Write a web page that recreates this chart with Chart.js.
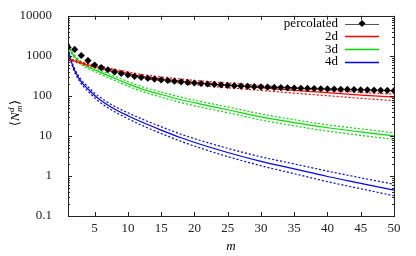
<!DOCTYPE html>
<html>
<head>
<meta charset="utf-8">
<script src="https://cdn.jsdelivr.net/npm/chart.js@4.4.1/dist/chart.umd.min.js"></script>
<style>
html, body { margin: 0; padding: 0; background: #fff; }
#myChart { display: block; }
</style>
</head>
<body>
<canvas id="myChart" width="416" height="256"></canvas>
<script>
// measured points
const mValues = [1, 2, 3, 4, 5, 6, 7, 8, 9, 10, 11, 12, 13, 14, 15, 16, 17, 18, 19, 20,
    21, 22, 23, 24, 25, 26, 27, 28, 29, 30, 31, 32, 33, 34, 35, 36, 37, 38, 39, 40,
    41, 42, 43, 44, 45, 46, 47, 48, 49, 50];
const percolated = [1650, 1450, 1020, 760, 590, 510, 450, 395, 362, 335, 308, 290, 276, 263, 252, 242, 233, 225, 217, 210,
    204, 198, 193, 188, 184, 180, 176, 173, 170, 167, 165, 163, 161, 159, 157, 155, 153.5, 152, 150.5, 149,
    147.5, 146, 145, 143.5, 142, 140.5, 139, 138, 136.5, 135];

// fitted curves (solid) and their bounds (dotted)
const fitM = [1, 1.5, 2, 3, 4, 5, 6, 8, 10, 12, 15, 18, 21, 25, 30, 35, 40, 45, 50];
const fit2d = [850, 795, 745, 665, 600, 550, 505, 430, 365, 310, 268, 235, 210, 185, 160, 138, 120, 105, 93];
const fit2dHigh = [880, 830, 785, 705, 640, 590, 545, 467, 400, 342, 298, 263, 236, 210, 183, 159, 139, 123, 110];
const fit2dLow = [820, 760, 705, 625, 560, 510, 465, 393, 330, 278, 238, 207, 183, 160, 137, 117, 101, 87, 76];
const fit3d = [1900, 1250, 950, 660, 530, 450, 380, 275, 200, 150, 108, 80, 62, 45, 30, 21.5, 16, 12.6, 10];
const fit3dHigh = [1950, 1320, 1020, 720, 585, 500, 425, 310, 228, 172, 125, 93, 72, 53, 35.5, 25.5, 19, 15, 12];
const fit3dLow = [1850, 1180, 880, 605, 480, 405, 340, 243, 175, 130, 93, 68, 52, 38, 25, 17.8, 13.2, 10.3, 8.2];
const fit4d = [1500, 720, 430, 225, 150, 102, 76, 47, 32, 22.5, 14, 9.0, 6.1, 3.85, 2.32, 1.5, 0.97, 0.655, 0.44];
const fit4dHigh = [1550, 780, 475, 252, 170, 117, 88, 55, 38, 27, 17, 11, 7.6, 4.9, 3.0, 2.0, 1.32, 0.9, 0.62];
const fit4dLow = [1450, 665, 390, 200, 132, 89, 65, 40, 27, 18.7, 11.5, 7.3, 4.9, 3.05, 1.8, 1.14, 0.72, 0.48, 0.32];

const xTicks = [5, 10, 15, 20, 25, 30, 35, 40, 45, 50];
const yTicks = [0.1, 1, 10, 100, 1000, 10000];
const yTickLabels = ['0.1', '1', '10', '100', '1000', '10000'];
const legendLabels = ['percolated', '2d', '3d', '4d'];

const FONT = '"Liberation Serif", "DejaVu Serif", serif';

function pts(xs, ys) {
    return xs.map((x, i) => ({ x: x, y: ys[i] }));
}

function curve(label, ys, color, dotted) {
    return {
        label: label,
        data: pts(fitM, ys),
        borderColor: color,
        backgroundColor: color,
        borderWidth: 1.2,
        borderDash: dotted ? [2, 2] : [],
        pointRadius: 0,
        cubicInterpolationMode: 'monotone',
        fill: false
    };
}

// frame, inward ticks, legend, y title
const decorations = {
    id: 'decorations',
    afterDraw(chart) {
        const ctx = chart.ctx;
        const a = chart.chartArea;
        const xs = chart.scales.x;
        const ys = chart.scales.y;
        ctx.save();
        ctx.strokeStyle = '#222';
        ctx.lineWidth = 1;
        ctx.strokeRect(Math.round(a.left) + 0.5, Math.round(a.top) + 0.5,
            Math.round(a.right - a.left), Math.round(a.bottom - a.top));

        ctx.beginPath();
        xTicks.forEach((v) => {
            const px = Math.round(xs.getPixelForValue(v)) + 0.5;
            ctx.moveTo(px, a.bottom); ctx.lineTo(px, a.bottom - 4);
            ctx.moveTo(px, a.top); ctx.lineTo(px, a.top + 4);
        });
        yTicks.forEach((v) => {
            const py = Math.round(ys.getPixelForValue(v)) + 0.5;
            ctx.moveTo(a.left, py); ctx.lineTo(a.left + 4, py);
            ctx.moveTo(a.right, py); ctx.lineTo(a.right - 4, py);
            if (v < 10000) {
                for (let k = 2; k < 10; k++) {
                    const pm = Math.round(ys.getPixelForValue(v * k)) + 0.5;
                    ctx.moveTo(a.left, pm); ctx.lineTo(a.left + 2, pm);
                    ctx.moveTo(a.right, pm); ctx.lineTo(a.right - 2, pm);
                }
            }
        });
        ctx.stroke();

        // legend
        ctx.font = '13px ' + FONT;
        ctx.textAlign = 'right';
        ctx.textBaseline = 'middle';
        const order = [0, 1, 4, 7];
        legendLabels.forEach((lab, i) => {
            const y = 23.5 + i * 12.8;
            const ds = chart.data.datasets[order[i]];
            ctx.fillStyle = '#000';
            ctx.fillText(lab, 338, y);
            ctx.strokeStyle = i === 0 ? '#555' : ds.borderColor;
            ctx.lineWidth = i === 0 ? 1 : 1.5;
            ctx.beginPath();
            ctx.moveTo(345, Math.round(y) + 0.5);
            ctx.lineTo(379, Math.round(y) + 0.5);
            ctx.stroke();
            if (i === 0) {
                ctx.fillStyle = '#000';
                ctx.beginPath();
                ctx.moveTo(362, y - 3.5); ctx.lineTo(365.5, y);
                ctx.lineTo(362, y + 3.5); ctx.lineTo(358.5, y);
                ctx.closePath();
                ctx.fill();
            }
        });

        // y axis title <N^d_m>
        ctx.translate(15, 113);
        ctx.rotate(-Math.PI / 2);
        ctx.textAlign = 'left';
        ctx.textBaseline = 'alphabetic';
        ctx.fillStyle = '#000';
        const big = '13px ' + FONT;
        const bigI = 'italic 13px ' + FONT;
        const small = 'italic 9px ' + FONT;
        ctx.font = big;
        const wl = ctx.measureText('\u27E8').width;
        const wr = ctx.measureText('\u27E9').width;
        ctx.font = bigI;
        const wn = ctx.measureText('N').width;
        ctx.font = small;
        const ws = Math.max(ctx.measureText('d').width, ctx.measureText('m').width);
        let x = -(wl + wn + ws + wr + 1) / 2;
        ctx.font = big; ctx.fillText('\u27E8', x, 4); x += wl;
        ctx.font = bigI; ctx.fillText('N', x, 4); x += wn + 0.5;
        ctx.font = small; ctx.fillText('d', x, -1); ctx.fillText('m', x, 7); x += ws + 0.5;
        ctx.font = big; ctx.fillText('\u27E9', x, 4);
        ctx.restore();
    }
};

const ctx = document.getElementById('myChart').getContext('2d');
const myChart = new Chart(ctx, {
    type: 'line',
    data: {
        datasets: [
            {
                label: 'percolated',
                data: pts(mValues, percolated),
                borderColor: '#000000',
                backgroundColor: '#000000',
                showLine: false,
                pointStyle: 'rectRot',
                pointRadius: 3.6,
                pointBorderWidth: 0
            },
            curve('2d', fit2d, '#ff0000', false),
            curve('2d high', fit2dHigh, '#ff0000', true),
            curve('2d low', fit2dLow, '#ff0000', true),
            curve('3d', fit3d, '#00e000', false),
            curve('3d high', fit3dHigh, '#00e000', true),
            curve('3d low', fit3dLow, '#00e000', true),
            curve('4d', fit4d, '#0000ff', false),
            curve('4d high', fit4dHigh, '#0000ff', true),
            curve('4d low', fit4dLow, '#0000ff', true)
        ]
    },
    options: {
        responsive: false,
        animation: false,
        layout: { padding: { left: 0, right: 22, top: 14, bottom: 0 } },
        plugins: {
            legend: { display: false },
            tooltip: { enabled: false }
        },
        scales: {
            x: {
                type: 'linear',
                min: 1,
                max: 50,
                grid: { display: false },
                border: { display: false },
                afterBuildTicks: (s) => { s.ticks = xTicks.map((v) => ({ value: v })); },
                afterFit: (s) => { s.height = 40; },
                ticks: {
                    autoSkip: false,
                    maxRotation: 0,
                    padding: -3,
                    color: '#222',
                    font: { family: FONT, size: 13 }
                },
                title: {
                    display: true,
                    text: 'm',
                    color: '#000',
                    padding: { top: 0, bottom: 2 },
                    font: { family: FONT, size: 13, style: 'italic' }
                }
            },
            y: {
                type: 'logarithmic',
                min: 0.1,
                max: 10000,
                grid: { display: false },
                border: { display: false },
                afterBuildTicks: (s) => { s.ticks = yTicks.map((v) => ({ value: v })); },
                afterFit: (s) => { s.width = 68; },
                ticks: {
                    autoSkip: false,
                    padding: 8,
                    color: '#222',
                    font: { family: FONT, size: 13 },
                    callback: (v) => yTickLabels[yTicks.indexOf(v)]
                }
            }
        }
    },
    plugins: [decorations]
});
</script>
</body>
</html>
